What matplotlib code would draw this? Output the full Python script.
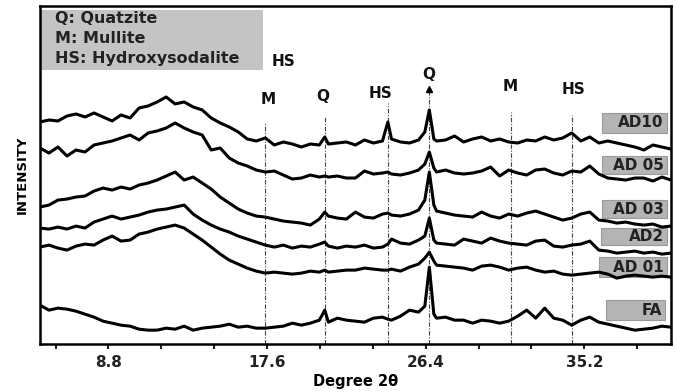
import numpy as np
import matplotlib.pyplot as plt
from matplotlib.patches import Rectangle

plt.rcParams['font.family'] = ['DejaVu Sans']
plt.rcParams['font.weight'] = 'bold'

# 2-theta grid (deg), denser around the sharp peaks
two_theta = [5.0, 5.5, 6.0, 6.5, 7.0, 7.5, 8.0, 8.5, 9.0, 9.5, 10.0, 10.5,
             11.0, 11.5, 12.0, 12.5, 13.0, 13.5, 14.0, 14.5, 15.0, 15.5,
             16.0, 16.5, 17.0, 17.5, 18.0, 18.5, 19.0, 19.5, 20.0, 20.5,
             20.8, 21.0, 21.5, 22.0, 22.5, 23.0, 23.5, 24.0, 24.3, 24.5,
             25.0, 25.5, 26.0, 26.35, 26.6, 26.85, 27.0, 27.5, 28.0, 28.5,
             29.0, 29.5, 30.0, 30.5, 31.0, 31.5, 32.0, 32.5, 33.0, 33.5,
             34.0, 34.5, 35.0, 35.5, 36.0, 36.5, 37.0, 37.5, 38.0, 38.5,
             39.0, 39.5, 40.0]

# intensities (a.u., stacked as in the figure)
ad10 = [228, 230, 229, 234, 236, 233, 237, 233, 229, 235, 232, 242,
        244, 248, 253, 246, 248, 243, 240, 232, 227, 223, 218, 211,
        209, 212, 205, 208, 206, 203, 206, 205,
        213, 206, 207, 208, 205, 210, 207, 209, 228,
        211, 208, 207, 210, 218, 240, 211,
        209, 210, 214, 208, 211, 213, 209, 211, 208, 207, 210, 209, 213,
        210, 212, 217, 209, 213, 207, 209, 207, 205, 203, 200, 205, 203, 201]
ad05 = [202, 197, 203, 194, 200, 198, 205, 207, 209, 212, 215, 210,
        217, 219, 222, 227, 222, 218, 215, 200, 202, 192, 187, 184,
        180, 178, 179, 175, 171, 172, 175, 173,
        174, 173, 174, 172, 172, 179, 176, 177, 178,
        176, 175, 177, 180, 186, 198, 182,
        178, 180, 177, 176, 177, 179, 183, 174, 180, 177, 175, 180, 181,
        177, 175, 179, 178, 184, 176, 172, 171, 170, 172, 172, 169, 173, 170]
ad03 = [143, 145, 150, 151, 153, 154, 159, 162, 160, 163, 161, 165,
        167, 170, 174, 178, 170, 173, 167, 161, 153, 147, 141, 137,
        134, 133, 131, 129, 128, 127, 125, 131,
        138, 134, 132, 131, 138, 133, 132, 136, 137,
        135, 134, 136, 140, 150, 178, 145,
        139, 137, 135, 134, 133, 138, 134, 132, 136, 134, 137, 139, 136,
        133, 130, 132, 136, 138, 130, 129, 127, 128, 126, 125, 126, 123, 124]
ad2 = [122, 121, 123, 121, 124, 122, 128, 131, 134, 131, 133, 135,
       138, 140, 141, 143, 145, 136, 130, 125, 121, 118, 114, 111,
       108, 105, 103, 105, 102, 104, 103, 106,
       108, 104, 102, 104, 103, 105, 102, 103, 106,
       111, 107, 106, 110, 114, 132, 110,
       107, 106, 105, 111, 109, 107, 112, 109, 107, 106, 105, 109, 110,
       104, 103, 105, 106, 109, 100, 99, 97, 98, 99, 97, 98, 96, 97]
ad01 = [103, 105, 102, 100, 104, 106, 105, 110, 114, 109, 110, 116,
        118, 121, 123, 125, 122, 116, 110, 103, 96, 90, 86, 82,
        79, 77, 78, 77, 76, 77, 79, 78,
        80, 78, 79, 80, 80, 82, 81, 80, 80,
        81, 79, 83, 86, 92, 98, 89,
        85, 84, 83, 82, 80, 84, 85, 83, 80, 82, 83, 80, 78,
        79, 76, 75, 76, 77, 78, 76, 72, 74, 75, 74, 73, 74, 73]
fa = [45, 40, 42, 41, 39, 36, 33, 29, 27, 25, 24, 21,
      20, 20, 22, 21, 24, 20, 22, 23, 24, 26, 23, 24,
      22, 22, 23, 24, 27, 25, 27, 30,
      40, 28, 32, 30, 29, 28, 32, 33, 31,
      30, 34, 40, 38, 44, 83, 36,
      32, 33, 30, 30, 27, 30, 29, 27, 29, 34, 40, 32, 42,
      32, 30, 25, 30, 33, 28, 26, 24, 22, 20, 21, 22, 24, 23]

series = [ad10, ad05, ad03, ad2, ad01, fa]
sample_names = ['AD10', 'AD 05', 'AD 03', 'AD2', 'AD 01', 'FA']

# phase reflections
phase_names = ['M', 'Q', 'HS', 'Q', 'M', 'HS']
phase_pos = [17.5, 20.8, 24.3, 26.6, 31.15, 34.5]

fig = plt.figure(figsize=(6.77, 3.92), dpi=100)
ax = fig.add_axes([0.059, 0.122, 0.932, 0.863])

for y in series:
    ax.plot(two_theta, y, color='black', lw=2.2, zorder=3)

# dashed marker lines and phase labels
line_tops = [228, 233, 247, 258, 238, 235]
label_xy = [(17.65, 250), (20.7, 253), (23.9, 256), (26.56, 275),
            (31.1, 263), (34.6, 260)]
for pos, top, name, (lx, ly) in zip(phase_pos, line_tops, phase_names, label_xy):
    ax.plot([pos, pos], [6, top], color='#444444', lw=0.8,
            ls=(0, (4, 1.5, 1, 1.5)), zorder=2)
    ax.text(lx, ly, name, ha='center', va='center', fontsize=11,
            fontweight='bold', color='#111111')
ax.plot([26.6], [261], marker='^', color='black', ms=4, zorder=4)
ax.text(18.5, 288, 'HS', ha='center', va='center', fontsize=11,
        fontweight='bold', color='#111111')

# sample label boxes
box_x = [(36.2, 39.8), (36.2, 39.8), (36.2, 39.8), (36.1, 39.8),
         (36.0, 39.8), (36.4, 39.7)]
box_y = [(217, 237), (176, 194), (132, 150), (105, 122), (73, 93), (30, 50)]
for name, (x0, x1), (y0, y1) in zip(sample_names, box_x, box_y):
    ax.add_patch(Rectangle((x0, y0), x1 - x0, y1 - y0, facecolor='#b4b4b4',
                           edgecolor='#9a9a9a', lw=0.8, zorder=2))
    ax.text(x1 - 0.2, (y0 + y1) / 2, name, ha='right', va='center',
            fontsize=11, fontweight='bold', color='#222222', zorder=4)

# key box
ax.add_patch(Rectangle((0, 0.81), 0.353, 0.178, transform=ax.transAxes,
                       facecolor='#c4c4c4', edgecolor='none', zorder=1))
for ty, txt in zip([0.962, 0.903, 0.844],
                   ['Q: Quatzite', 'M: Mullite', 'HS: Hydroxysodalite']):
    ax.text(0.024, ty, txt, transform=ax.transAxes, ha='left', va='center',
            fontsize=11.5, fontweight='bold', color='#222222')

ax.set_xlim(5, 40)
ax.set_ylim(6, 344)
ax.set_xticks([8.8, 17.6, 26.4, 35.2])
ax.set_xticks(np.arange(5.8667, 40, 8.8 / 3), minor=True)
ax.set_xticklabels(['8.8', '17.6', '26.4', '35.2'], fontsize=11,
                   fontweight='bold')
ax.tick_params(axis='x', which='both', direction='out', length=3.5,
               width=1.5, pad=4, colors='#222222')
ax.set_yticks([])
for s in ax.spines.values():
    s.set_linewidth(1.8)
ax.set_xlabel('Degree 2θ', fontsize=10.5, fontweight='bold', labelpad=3)
ax.set_ylabel('INTENSITY', fontsize=9.5, fontweight='bold', labelpad=8)

fig.savefig('out.png', dpi=100)
